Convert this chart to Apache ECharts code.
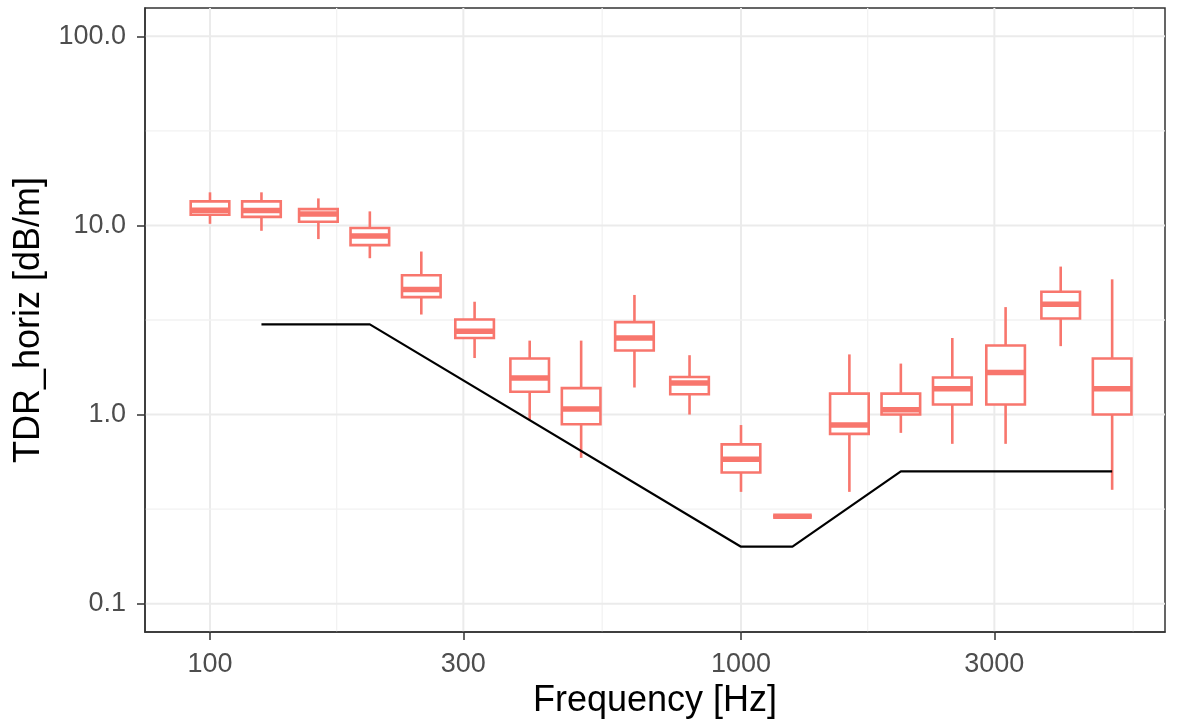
<!DOCTYPE html>
<html><head><meta charset="utf-8">
<script src="https://cdn.jsdelivr.net/npm/echarts@6/dist/echarts.min.js"></script>
<style>html,body{margin:0;padding:0;background:#fff}#c{width:1183px;height:722px}</style>
</head><body><div id="c"></div>
<script>
// ---- data ----
const frequencies = [100, 125, 160, 200, 250, 315, 400, 500, 630, 800, 1000, 1250, 1600, 2000, 2500, 3150, 4000, 5000];
const whiskerMin = [10.2, 9.37, 8.47, 6.71, 3.38, 1.99, 0.94, 0.59, 1.39, 1.0, 0.39, 0.29, 0.39, 0.80, 0.70, 0.70, 2.30, 0.40];
const lowerHinge = [11.4, 11.1, 10.46, 7.87, 4.18, 2.54, 1.32, 0.888, 2.18, 1.28, 0.494, 0.29, 0.79, 1.0, 1.13, 1.13, 3.22, 1.0];
const medians = [12.05, 12.0, 11.5, 8.79, 4.59, 2.76, 1.56, 1.07, 2.54, 1.47, 0.58, 0.29, 0.88, 1.06, 1.37, 1.67, 3.83, 1.37];
const upperHinge = [13.4, 13.4, 12.2, 9.69, 5.45, 3.18, 1.98, 1.38, 3.08, 1.58, 0.695, 0.29, 1.29, 1.29, 1.57, 2.32, 4.46, 1.98];
const whiskerMax = [14.97, 14.97, 13.9, 11.87, 7.28, 3.95, 2.46, 2.46, 4.29, 2.06, 0.88, 0.29, 2.08, 1.86, 2.54, 3.70, 6.06, 5.19];
const limitFreq = [125, 200, 1000, 1250, 2000, 5000];
const limitValue = [3, 3, 0.2, 0.2, 0.5, 0.5];
const xTicks = [100, 300, 1000, 3000];
const xTickLabels = ['100', '300', '1000', '3000'];
const xMinorGrid = [173.2, 547.7, 1732, 5477];
const yTicks = [0.1, 1, 10, 100];
const yTickLabels = ['0.1', '1.0', '10.0', '100.0'];
const yMinorGrid = [0.3162, 3.162, 31.62];

// ---- styling constants ----
const L = Math.log10;
const X_MIN = 1.8776, X_MAX = 3.7985;   // log10(Hz) panel range
const Y_MIN = -1.15, Y_MAX = 2.15;      // log10(dB/m) panel range
const BOX_W = 0.0727;                   // box width in log10 units
const RED = '#F8766D';
const FONT = '"Liberation Sans", Arial, sans-serif';

const boxData = frequencies.map((f, i) => [L(f), L(whiskerMin[i]), L(lowerHinge[i]), L(medians[i]), L(upperHinge[i]), L(whiskerMax[i])]);
const lineData = limitFreq.map((f, i) => [L(f), L(limitValue[i])]);
const gridData = []
  .concat(xTicks.map(v => [0, L(v), 1]))
  .concat(xMinorGrid.map(v => [0, L(v), 0]))
  .concat(yTicks.map(v => [1, L(v), 1]))
  .concat(yMinorGrid.map(v => [1, L(v), 0]));

function labelFor(ticks, labels, v) {
  for (let i = 0; i < ticks.length; i++) if (Math.abs(L(ticks[i]) - v) < 1e-6) return labels[i];
  return '';
}

const chart = echarts.init(document.getElementById('c'), null, {renderer: 'canvas'});
chart.setOption({
  animation: false,
  backgroundColor: '#fff',
  grid: {left: 145, right: 18, top: 8, bottom: 90, show: true, borderColor: '#333', borderWidth: 1.5,
         backgroundColor: 'transparent', containLabel: false, outerBoundsMode: 'none'},
  xAxis: {
    type: 'value', min: X_MIN, max: X_MAX,
    name: 'Frequency [Hz]', nameLocation: 'middle', nameGap: 48,
    nameTextStyle: {fontSize: 36, color: '#000', fontFamily: FONT},
    axisLine: {show: true, onZero: false, lineStyle: {color: '#333', width: 1.5}},
    axisTick: {show: true, length: 8, customValues: xTicks.map(L), lineStyle: {color: '#333', width: 1.5}},
    axisLabel: {customValues: xTicks.map(L), margin: 19, fontSize: 27, color: '#4d4d4d', fontFamily: FONT,
                formatter: v => labelFor(xTicks, xTickLabels, v)},
    splitLine: {show: false}
  },
  yAxis: {
    type: 'value', min: Y_MIN, max: Y_MAX,
    name: 'TDR_horiz [dB/m]', nameLocation: 'middle', nameGap: 97,
    nameTextStyle: {fontSize: 36, color: '#000', fontFamily: FONT},
    axisLine: {show: true, onZero: false, lineStyle: {color: '#333', width: 1.5}},
    axisTick: {show: true, length: 8, customValues: yTicks.map(L), lineStyle: {color: '#333', width: 1.5}},
    axisLabel: {customValues: yTicks.map(L), margin: 19, fontSize: 27, color: '#4d4d4d', fontFamily: FONT,
                formatter: v => labelFor(yTicks, yTickLabels, v)},
    splitLine: {show: false}
  },
  series: [
    {
      type: 'custom', z: 0, silent: true, data: gridData,
      encode: {x: 1, y: 1},
      renderItem: function (params, api) {
        const cs = params.coordSys;
        const orient = api.value(0), v = api.value(1), major = api.value(2);
        let shape;
        if (orient === 0) {
          const p = api.coord([v, Y_MIN]);
          shape = {x1: p[0], y1: cs.y, x2: p[0], y2: cs.y + cs.height};
        } else {
          const p = api.coord([X_MIN, v]);
          shape = {x1: cs.x, y1: p[1], x2: cs.x + cs.width, y2: p[1]};
        }
        return {type: 'line', shape: shape, style: {stroke: major ? '#ebebeb' : '#f2f2f2', lineWidth: major ? 2 : 1.3}};
      }
    },
    {
      type: 'custom', z: 2, data: boxData,
      encode: {x: 0, y: [1, 2, 3, 4, 5]},
      renderItem: function (params, api) {
        const x = api.value(0);
        const pMin = api.coord([x, api.value(1)]);
        const pQ1 = api.coord([x, api.value(2)]);
        const pMed = api.coord([x, api.value(3)]);
        const pQ3 = api.coord([x, api.value(4)]);
        const pMax = api.coord([x, api.value(5)]);
        const hw = api.size([BOX_W, 0])[0] / 2;
        return {type: 'group', children: [
          {type: 'line', shape: {x1: pMax[0], y1: pMax[1], x2: pQ3[0], y2: pQ3[1]}, style: {stroke: RED, lineWidth: 2.6}},
          {type: 'line', shape: {x1: pQ1[0], y1: pQ1[1], x2: pMin[0], y2: pMin[1]}, style: {stroke: RED, lineWidth: 2.6}},
          {type: 'rect', shape: {x: pQ3[0] - hw, y: pQ3[1], width: 2 * hw, height: pQ1[1] - pQ3[1]}, style: {fill: '#fff', stroke: RED, lineWidth: 2.6}},
          {type: 'line', shape: {x1: pMed[0] - hw, y1: pMed[1], x2: pMed[0] + hw, y2: pMed[1]}, style: {stroke: RED, lineWidth: 5.5}}
        ]};
      }
    },
    {
      type: 'line', z: 3, data: lineData, symbol: 'none', silent: true,
      lineStyle: {color: '#000', width: 2.2}
    }
  ]
});
</script>
</body></html>
